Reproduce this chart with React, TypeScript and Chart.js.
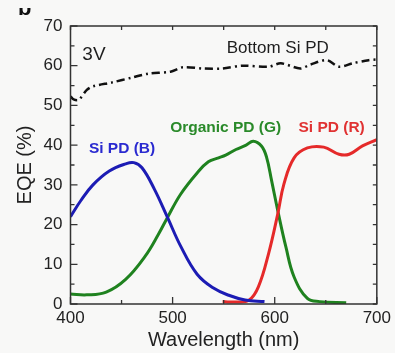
import React, { useEffect, useRef } from "react";
import { Chart, registerables } from "chart.js";

Chart.register(...registerables);

// ---------- data ----------
const blueWavelength = [400, 410, 422, 438, 454, 462, 470, 482, 495, 508, 524, 540, 555, 571, 590];
const blueEQE = [22, 26, 30, 33.5, 35.3, 35.6, 34.3, 29, 21.8, 14.5, 7.5, 4, 2.2, 1, 0.6];

const greenWavelength = [400, 416, 435, 454, 473, 486, 495, 508, 524, 535, 545, 552, 562, 572, 579, 587, 592, 597, 603, 611, 619, 632, 644, 670];
const greenEQE = [2.5, 2.3, 3, 6.2, 12, 17.5, 21.8, 27.7, 33, 35.8, 36.8, 37.5, 38.9, 40, 41, 39.8, 37, 31, 23.5, 14.3, 6.8, 1.4, 0.6, 0.3];

const redWavelength = [549, 562, 575, 584, 594, 603, 609, 619, 632, 648, 663, 673, 686, 700];
const redEQE = [0.6, 0.5, 1, 4.3, 12.7, 22.7, 30.2, 36.8, 39.3, 39.5, 37.7, 37.7, 39.8, 41.4];

const bottomWavelength = [400, 403, 408, 416, 422, 441, 460, 476, 498, 510, 530, 549, 568, 594, 606, 625, 635, 651, 663, 676, 692, 700];
const bottomEQE = [52.3, 51.5, 51.4, 53.9, 54.8, 55.8, 57, 58, 58.5, 59.6, 59.3, 59.3, 60, 59.75, 60.6, 59.3, 60.3, 61.4, 59.75, 60.6, 61.4, 61.6];

const xTickValues = [400, 500, 600, 700];
const yTickValues = [0, 10, 20, 30, 40, 50, 60, 70];

const annotationTexts = ["3V", "Bottom Si PD", "Si PD (B)", "Organic PD (G)", "Si PD (R)"];
const annotationX = [423, 603, 450.5, 552, 655.7];
const annotationY = [62.7, 64.4, 39.2, 44.5, 44.5];

// ---------- styles ----------
const FONT = "'Liberation Sans', Arial, sans-serif";
const annotationStyles = [
  { color: "#1e1e1e", font: `19px ${FONT}` },
  { color: "#1e1e1e", font: `17px ${FONT}` },
  { color: "#2a2ad0", font: `bold 15.5px ${FONT}` },
  { color: "#2a8a2a", font: `bold 15.5px ${FONT}` },
  { color: "#e03232", font: `bold 15.5px ${FONT}` },
];

const toPoints = (xs: number[], ys: number[]) => xs.map((x, i) => ({ x, y: ys[i] }));

const framePlugin = {
  id: "frame",
  beforeDraw(chart: any) {
    const ctx = chart.ctx;
    ctx.save();
    ctx.fillStyle = "#f8f8f7";
    ctx.fillRect(0, 0, chart.width, chart.height);
    ctx.restore();
  },
  afterDraw(chart: any) {
    const ctx = chart.ctx;
    const { left, right, top, bottom } = chart.chartArea;
    const xs = chart.scales.x;
    const ys = chart.scales.y;
    ctx.save();
    // partial panel letter
    ctx.save();
    ctx.beginPath();
    ctx.rect(0, 8, 60, 20);
    ctx.clip();
    ctx.fillStyle = "#111";
    ctx.font = `bold 22px ${FONT}`;
    ctx.textBaseline = "alphabetic";
    ctx.fillText("b", 18, 15);
    ctx.restore();

    ctx.strokeStyle = "#333";
    ctx.lineWidth = 1.5;
    ctx.strokeRect(left, top, right - left, bottom - top);
    ctx.lineWidth = 1.3;
    ctx.beginPath();
    for (let v = 0; v <= 70; v += 5) {
      const p = ys.getPixelForValue(v);
      const major = v % 10 === 0;
      ctx.moveTo(left, p);
      ctx.lineTo(left + (major ? 7 : 4), p);
      ctx.moveTo(right, p);
      ctx.lineTo(right - 4, p);
    }
    for (let v = 400; v <= 700; v += 50) {
      const p = xs.getPixelForValue(v);
      const major = v % 100 === 0;
      ctx.moveTo(p, bottom);
      ctx.lineTo(p, bottom - (major ? 7 : 4));
      ctx.moveTo(p, top);
      ctx.lineTo(p, top + 4);
    }
    ctx.stroke();

    ctx.textAlign = "center";
    ctx.textBaseline = "middle";
    annotationTexts.forEach((t, i) => {
      ctx.fillStyle = annotationStyles[i].color;
      ctx.font = annotationStyles[i].font;
      ctx.fillText(t, xs.getPixelForValue(annotationX[i]), ys.getPixelForValue(annotationY[i]));
    });
    ctx.restore();
  },
};

export default function App() {
  const ref = useRef<HTMLCanvasElement>(null);
  useEffect(() => {
    document.body.style.margin = "0";
    const chart = new Chart(ref.current!, {
      type: "line",
      data: {
        datasets: [
          {
            data: toPoints(blueWavelength, blueEQE),
            borderColor: "#1c1cb4",
            borderWidth: 3,
            pointRadius: 0,
            tension: 0.4,
            order: 1,
          },
          {
            data: toPoints(redWavelength, redEQE),
            borderColor: "#e52a2a",
            borderWidth: 3,
            pointRadius: 0,
            tension: 0.4,
            order: 2,
          },
          {
            data: toPoints(greenWavelength, greenEQE),
            borderColor: "#1f821f",
            borderWidth: 3,
            pointRadius: 0,
            tension: 0.4,
            order: 3,
          },
          {
            data: toPoints(bottomWavelength, bottomEQE),
            borderColor: "#111",
            borderWidth: 2.5,
            borderDash: [8, 4, 2, 4],
            pointRadius: 0,
            tension: 0.3,
            order: 4,
          },
        ],
      },
      options: {
        animation: false,
        responsive: false,
        devicePixelRatio: 1,
        layout: { padding: { top: 26, right: 10, left: 0, bottom: 0 } },
        plugins: { legend: { display: false }, tooltip: { enabled: false } },
        scales: {
          x: {
            type: "linear",
            min: 400,
            max: 700,
            afterBuildTicks: (s: any) => {
              s.ticks = xTickValues.map((v) => ({ value: v }));
            },
            afterFit: (s: any) => {
              s.height = 49;
            },
            grid: { display: false, drawTicks: false },
            border: { display: false },
            ticks: { font: { family: FONT, size: 17 }, color: "#222", padding: 4, maxRotation: 0 },
            title: {
              display: true,
              text: "Wavelength (nm)",
              font: { family: FONT, size: 20 },
              color: "#222",
              padding: { top: 0, bottom: 1 },
            },
          },
          y: {
            type: "linear",
            min: 0,
            max: 70,
            afterBuildTicks: (s: any) => {
              s.ticks = yTickValues.map((v) => ({ value: v }));
            },
            afterFit: (s: any) => {
              s.width = 70.5;
            },
            grid: { display: false, drawTicks: false },
            border: { display: false },
            ticks: { font: { family: FONT, size: 17 }, color: "#222", padding: 8 },
            title: {
              display: true,
              text: "EQE (%)",
              font: { family: FONT, size: 20 },
              color: "#222",
              padding: { top: 13, bottom: 0 },
            },
          },
        },
      },
      plugins: [framePlugin],
    } as any);
    return () => chart.destroy();
  }, []);
  return <canvas ref={ref} width={395} height={353} />;
}
